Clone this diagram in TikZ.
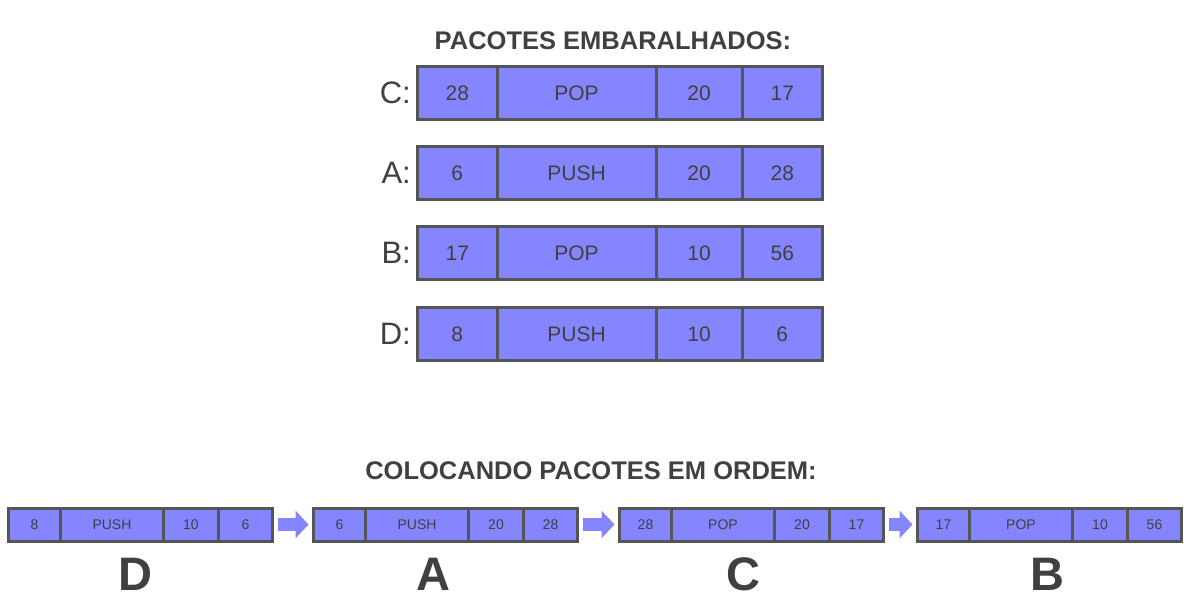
\documentclass[tikz,border=0pt]{standalone}
\usepackage{fontspec}
\setmainfont{Liberation Sans}
\usetikzlibrary{arrows.meta}
\definecolor{pkfill}{HTML}{8585FF}
\definecolor{pkline}{HTML}{555555}
\definecolor{txt}{HTML}{404040}
\tikzset{
  cellT/.style={draw=pkline, fill=pkfill, line width=3pt, minimum height=53pt, inner sep=0pt, outer sep=0pt, anchor=west, text=txt, font=\fontsize{21pt}{21pt}\selectfont},
  cellB/.style={draw=pkline, fill=pkfill, line width=3pt, minimum height=33pt, inner sep=0pt, outer sep=0pt, anchor=west, text=txt, font=\fontsize{14pt}{14pt}\selectfont},
  wT1/.style={cellT, minimum width=79.5pt}, wT2/.style={cellT, minimum width=159pt},
  wT3/.style={cellT, minimum width=86pt}, wT4/.style={cellT, minimum width=80.5pt},
  wB1/.style={cellB, minimum width=52pt}, wB2/.style={cellB, minimum width=103pt},
  wB3/.style={cellB, minimum width=55pt}, wB4/.style={cellB, minimum width=54pt},
  rowlabel/.style={anchor=east, text=txt, inner sep=0pt, font=\fontsize{31pt}{31pt}\selectfont},
  title/.style={text=txt, inner sep=0pt, font=\fontsize{25.5pt}{25.5pt}\selectfont\bfseries},
  biglabel/.style={text=txt, inner sep=0pt, font=\fontsize{47pt}{47pt}\selectfont\bfseries},
  packarrow/.style={draw=pkfill, line width=13pt, -{Triangle[length=13pt, width=27pt]}, shorten <=5pt, shorten >=5pt}
}
% #1 name, #2 x left, #3 y centre, #4 T/B, #5-#8 texts
\newcommand\pkt[8]{%
  \node[w#41] (#1a) at (#2,#3) {#5};
  \node[w#42] (#1b) at (#1a.east) {#6};
  \node[w#43] (#1c) at (#1b.east) {#7};
  \node[w#44] (#1d) at (#1c.east) {#8};
}
\begin{document}
\begin{tikzpicture}[x=1pt, y=-1pt]
\useasboundingbox (0,0) rectangle (1200,600);
\node[title] (t1) at (613,41) {PACOTES EMBARALHADOS:};
\pkt{C}{417.5}{93}{T}{28}{POP}{20}{17}
\pkt{A}{417.5}{173}{T}{6}{PUSH}{20}{28}
\pkt{B}{417.5}{253}{T}{17}{POP}{10}{56}
\pkt{D}{417.5}{334}{T}{8}{PUSH}{10}{6}
\node[rowlabel] (lC) at (411,93) {C:};
\node[rowlabel] (lA) at (411,173) {A:};
\node[rowlabel] (lB) at (411,253) {B:};
\node[rowlabel] (lD) at (411,334) {D:};

\node[title] (t2) at (591,471) {COLOCANDO PACOTES EM ORDEM:};
\pkt{d}{8.5}{524.5}{B}{8}{PUSH}{10}{6}
\pkt{a}{313.5}{524.5}{B}{6}{PUSH}{20}{28}
\pkt{c}{619.5}{524.5}{B}{28}{POP}{20}{17}
\pkt{b}{917.5}{524.5}{B}{17}{POP}{10}{56}
\draw[packarrow] (dd.east) -- (aa.west);
\draw[packarrow] (ad.east) -- (ca.west);
\draw[packarrow] (cd.east) -- (ba.west);
\node[biglabel] (LD) at (135,574) {D};
\node[biglabel] (LA) at (433,574) {A};
\node[biglabel] (LC) at (743,574) {C};
\node[biglabel] (LB) at (1047,574) {B};
\end{tikzpicture}
\end{document}
